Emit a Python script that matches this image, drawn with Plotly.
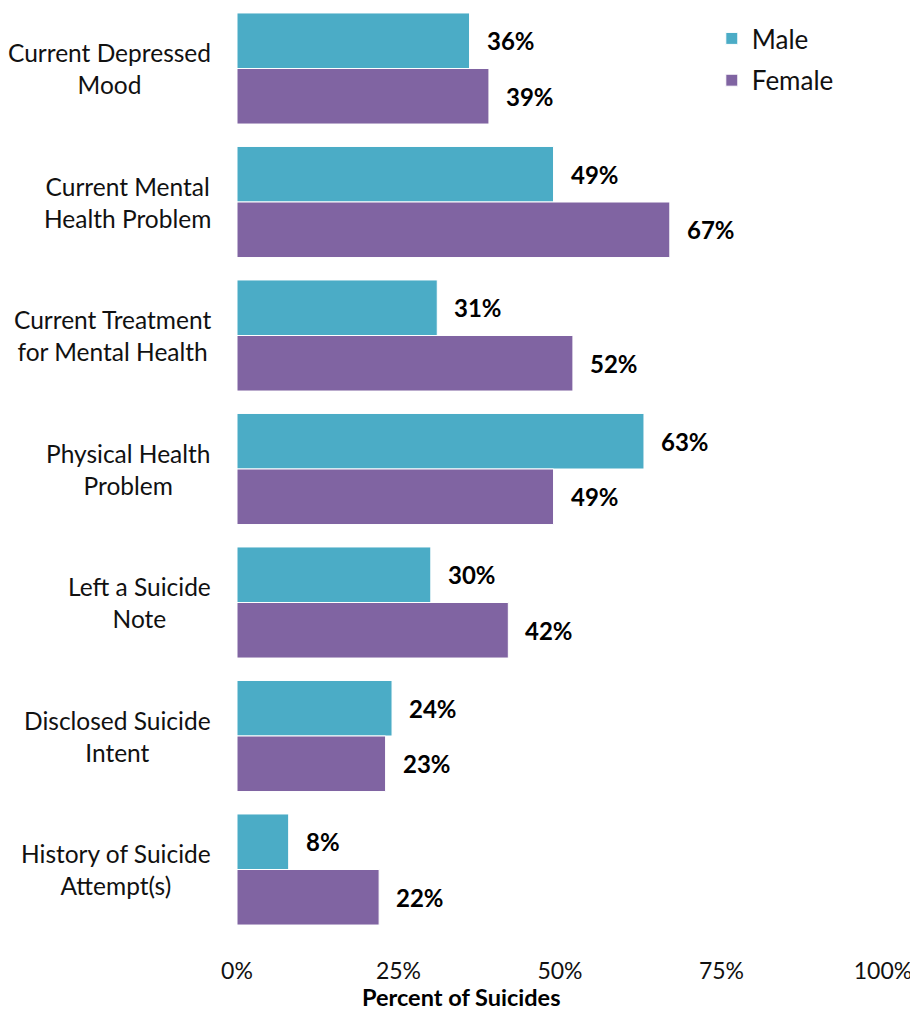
import plotly.graph_objects as go

categories = [
    "Current Depressed<br>Mood",
    "Current Mental<br>Health Problem",
    "Current Treatment<br>for Mental Health",
    "Physical Health<br>Problem",
    "Left a Suicide<br>Note",
    "Disclosed Suicide<br>Intent",
    "History of Suicide<br>Attempt(s)",
]
male = [36, 49, 31, 63, 30, 24, 8]
female = [39, 67, 52, 49, 42, 23, 22]
tick_vals = [0, 25, 50, 75, 100]
tick_text = ["0%", "25%", "50%", "75%", "100%"]

FONT = "Lato"
MALE_C = "#4BACC6"
FEMALE_C = "#8064A2"
BARGAP = 0.168
PLOT_H = 937

fig = go.Figure()
fig.add_trace(go.Bar(y=categories, x=male, name="Male", orientation="h", legendgroup="m",
                     marker=dict(color=MALE_C, line=dict(color="white", width=1))))
fig.add_trace(go.Bar(y=categories, x=female, name="Female", orientation="h", legendgroup="f",
                     marker=dict(color=FEMALE_C, line=dict(color="white", width=1))))

half = (1 - BARGAP) / 4  # offset of each bar's centre from the category centre
annotations = []
for i, cat in enumerate(categories):
    annotations.append(dict(x=0, y=i, xref="x", yref="y", text=cat, showarrow=False,
                            xanchor="right", xshift=-24, align="center",
                            font=dict(family=FONT, size=24.5, color="#111")))
    for val, off in ((male[i], -half), (female[i], half)):
        annotations.append(dict(x=val, y=i + off, xref="x", yref="y",
                                text="<b>%d%%</b>" % val, showarrow=False,
                                xanchor="left", xshift=15,
                                font=dict(family=FONT, size=24, color="#000")))
annotations.append(dict(x=0.347, y=-60 / PLOT_H, xref="paper", yref="paper",
                        text="<b>Percent of Suicides</b>", showarrow=False,
                        xanchor="center", yanchor="middle",
                        font=dict(family=FONT, size=23.5, color="#000")))

fig.update_layout(
    width=910, height=1015,
    margin=dict(l=237, r=27, t=0, b=78, autoexpand=False),
    barmode="group", bargap=BARGAP, bargroupgap=0,
    plot_bgcolor="white", paper_bgcolor="white",
    font=dict(family=FONT, size=24, color="#111"),
    showlegend=True,
    legend=dict(x=0.735, y=0.984, xanchor="left", yanchor="top",
                traceorder="grouped", font=dict(family=FONT, size=26, color="#111"),
                bgcolor="rgba(0,0,0,0)", itemwidth=30, tracegroupgap=5),
    annotations=annotations,
)
fig.update_xaxes(range=[0, 100], tickvals=tick_vals, ticktext=tick_text,
                 showgrid=False, zeroline=False, showline=False, automargin=False,
                 ticks="", ticklabelstandoff=18, ticklabeloverflow="allow",
                 tickfont=dict(family=FONT, size=23, color="#111"))
fig.update_yaxes(categoryorder="array", categoryarray=categories,
                 range=[6.5056, -0.5131], showticklabels=False, automargin=False,
                 showgrid=False, zeroline=False, showline=False, ticks="")

fig.write_html("out.html",
               config={"displayModeBar": False},
               post_script="document.body.style.margin='0';"
                           "document.body.style.overflow='hidden';")
